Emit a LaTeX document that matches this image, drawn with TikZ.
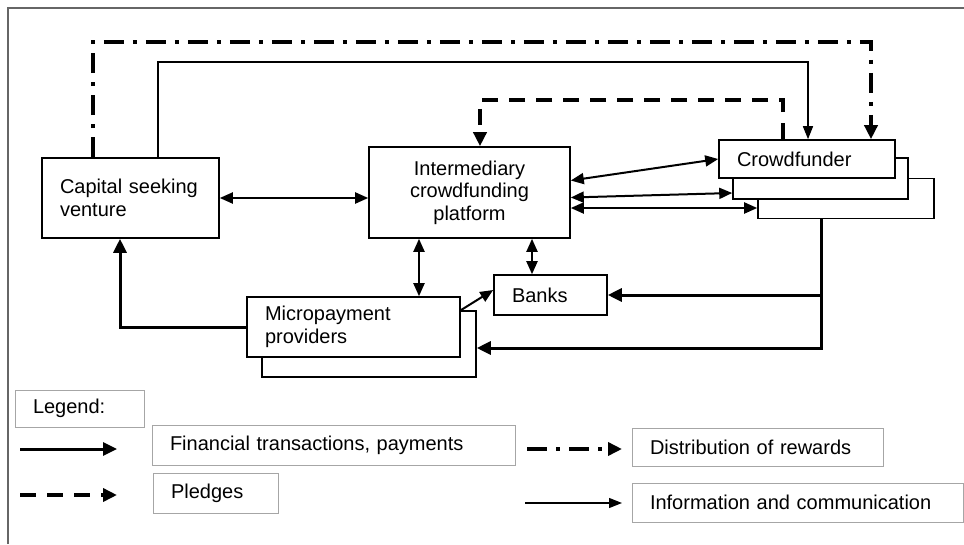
\documentclass[tikz,border=0pt]{standalone}
\usepackage{fontspec}
\setmainfont{Liberation Sans}
\usepackage{tikz}
\usetikzlibrary{arrows.meta}
\usetikzlibrary{positioning}
\tikzset{outline/.style = {draw = gray!80!black, line width = 1.2}}
\tikzset{box/.style = {draw, line width = 1.6, fill = white, inner xsep = 18, inner ysep = 0, align = left}}
\tikzset{keybox/.style = {draw = gray!70, line width = 1, inner xsep = 18, inner ysep = 0, align = left}}
\tikzset{finance/.style = {line width = 3, -{Triangle[length = 14pt, width = 13pt]}}}
\tikzset{reward/.style = {line width = 3.5, dash pattern = on 20pt off 9pt on 4pt off 9pt, -{Triangle[length = 14pt, width = 13pt]}}}
\tikzset{pledge/.style = {line width = 3.5, dash pattern = on 16pt off 11pt, -{Triangle[length = 14pt, width = 13pt]}}}
\tikzset{info/.style = {line width = 1.3, -{Triangle[length = 13pt, width = 10pt]}}}
\tikzset{twoway/.style = {line width = 2, {Triangle[length = 13pt, width = 11pt]}-{Triangle[length = 13pt, width = 11pt]}}}
\tikzset{pay/.style = {line width = 2, -{Triangle[length = 13pt, width = 11pt]}}}

\begin{document}
\begin{tikzpicture}[x = 1pt, y = -1pt, font = \fontsize{20}{22.5}\selectfont]
  \useasboundingbox (0, 0) rectangle (964, 544);
  \draw [outline] (8, 544) -- (8, 8) -- (964, 8);

  % parties
  \node [box, text width = 141, minimum height = 80] (venture) at (130.5, 198) {Capital seeking\\venture};
  \node [box, text width = 165, minimum height = 91, align = center] (platform) at (469.5, 192.5) {Intermediary\\crowdfunding\\platform};
  \node [box, minimum width = 176, minimum height = 40] (crowd3) at (846, 198.5) {};
  \node [box, minimum width = 175, minimum height = 41] (crowd2) at (820.5, 178.5) {};
  \node [box, text width = 140, minimum height = 38] (crowd) at (807, 159) {Crowdfunder};
  \node [box, text width = 77, minimum height = 40] (banks) at (550.5, 295) {Banks};
  \node [box, minimum width = 214, minimum height = 66] (micro2) at (369, 344) {};
  \node [box, text width = 177, minimum height = 60] (micro) at (353.5, 327) {Micropayment\\providers};

  % flows
  \coordinate (r1) at (93, 42);
  \coordinate (r2) at (871, 42);
  \draw [reward] (venture.north -| r1) -- (r1) -- (r2) -- (crowd.north -| r2);
  \coordinate (i1) at (158, 62);
  \coordinate (i2) at (808, 62);
  \draw [info] (venture.north -| i1) -- (i1) -- (i2) -- (crowd.north -| i2);
  \coordinate (p1) at (783, 100);
  \coordinate (p2) at (480, 100);
  \draw [pledge] (crowd.north -| p1) -- (p1) -- (p2) -- (platform.north -| p2);

  \draw [twoway] (venture.east) -- (venture.east -| platform.west);
  \draw [twoway] ([yshift = 12pt]platform.east) -- (crowd.west);
  \draw [twoway] ([yshift = -5pt]platform.east) -- ([yshift = -14.5pt]crowd2.west);
  \draw [twoway] ([yshift = -15.5pt]platform.east) -- ([yshift = -15.5pt]platform.east -| crowd3.west);
  \draw [twoway] ([xshift = -50.5pt]platform.south) -- ([xshift = -50.5pt]platform.south |- micro.north);
  \draw [twoway] ([xshift = 62.5pt]platform.south) -- ([xshift = 62.5pt]platform.south |- banks.north);
  \draw [pay] ([yshift = -14pt]micro.north east) -- ([yshift = 5pt]banks.west);
  \draw [finance] (micro.west) -| ([xshift = -10.5pt]venture.south);
  \draw [finance] ([xshift = -25pt]crowd3.south) |- ([yshift = -4pt]micro2.east);
  \draw [finance] ([xshift = -25pt]crowd3.south |- banks.east) -- (banks.east);

  % legend
  \node [keybox, text width = 93, minimum height = 37] (legend) at (79.5, 408.5) {Legend:};
  \node [keybox, text width = 327, minimum height = 40] (kfin) at (333.5, 445) {Financial transactions, payments};
  \node [keybox, text width = 215, minimum height = 38] (kreward) at (757.5, 447) {Distribution of rewards};
  \node [keybox, text width = 89, minimum height = 40] (kpledge) at (215.5, 493) {Pledges};
  \node [keybox, text width = 295, minimum height = 39] (kinfo) at (797.5, 502.5) {Information and communication};
  \coordinate (f0) at (20, 449);
  \coordinate (f1) at (117, 449);
  \draw [finance] (f0) -- (f1);
  \coordinate (d0) at (527, 449);
  \coordinate (d1) at (622, 449);
  \draw [reward] (d0) -- (d1);
  \coordinate (g0) at (20, 495);
  \coordinate (g1) at (117, 495);
  \draw [pledge] (g0) -- (g1);
  \coordinate (n0) at (525, 503);
  \coordinate (n1) at (622, 503);
  \draw [info] (n0) -- (n1);
\end{tikzpicture}
\end{document}
